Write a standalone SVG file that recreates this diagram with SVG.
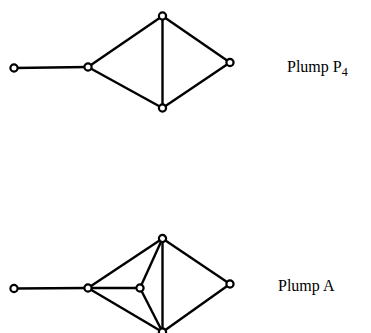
<svg xmlns="http://www.w3.org/2000/svg" width="371" height="333" viewBox="0 0 371 333">
<style>
.e{stroke:#000;stroke-width:2.4;fill:none}
.n{fill:#fff;stroke:#000;stroke-width:2.2}
.t{font-family:"Liberation Serif",serif;font-size:16px;fill:#000}
</style>
<rect width="371" height="333" fill="#fff"/>
<g id="connectors">
<line class="e" x1="14" y1="68" x2="88" y2="67"/>
<line class="e" x1="88" y1="67" x2="162.5" y2="16"/>
<line class="e" x1="88" y1="67" x2="162.5" y2="108"/>
<line class="e" x1="162.5" y1="16" x2="162.5" y2="108"/>
<line class="e" x1="162.5" y1="16" x2="230" y2="62.5"/>
<line class="e" x1="162.5" y1="108" x2="230" y2="62.5"/>
<line class="e" x1="14" y1="288.5" x2="88" y2="288"/>
<line class="e" x1="88" y1="288" x2="140" y2="288"/>
<line class="e" x1="88" y1="288" x2="162.5" y2="238.5"/>
<line class="e" x1="88" y1="288" x2="162.5" y2="332"/>
<line class="e" x1="140" y1="288" x2="162.5" y2="238.5"/>
<line class="e" x1="140" y1="288" x2="162.5" y2="332"/>
<line class="e" x1="162.5" y1="238.5" x2="162.5" y2="332"/>
<line class="e" x1="162.5" y1="238.5" x2="230" y2="284"/>
<line class="e" x1="162.5" y1="332" x2="230" y2="284"/>
</g>
<g id="p4-n1"><circle class="n" cx="14" cy="68" r="3.6"/></g>
<g id="p4-n2"><circle class="n" cx="88" cy="67" r="3.6"/></g>
<g id="p4-n3"><circle class="n" cx="162.5" cy="16" r="3.6"/></g>
<g id="p4-n4"><circle class="n" cx="162.5" cy="108" r="3.6"/></g>
<g id="p4-n5"><circle class="n" cx="230" cy="62.5" r="3.6"/></g>
<g id="a-n1"><circle class="n" cx="14" cy="288.5" r="3.6"/></g>
<g id="a-n2"><circle class="n" cx="88" cy="288" r="3.6"/></g>
<g id="a-n3"><circle class="n" cx="140" cy="288" r="3.6"/></g>
<g id="a-n4"><circle class="n" cx="162.5" cy="238.5" r="3.6"/></g>
<g id="a-n5"><circle class="n" cx="162.5" cy="332" r="3.6"/></g>
<g id="a-n6"><circle class="n" cx="230" cy="284" r="3.6"/></g>
<g id="label-p4"><text class="t" x="287" y="72">Plump P<tspan font-size="12" dy="4">4</tspan></text></g>
<g id="label-a"><text class="t" x="278" y="291">Plump A</text></g>
</svg>
